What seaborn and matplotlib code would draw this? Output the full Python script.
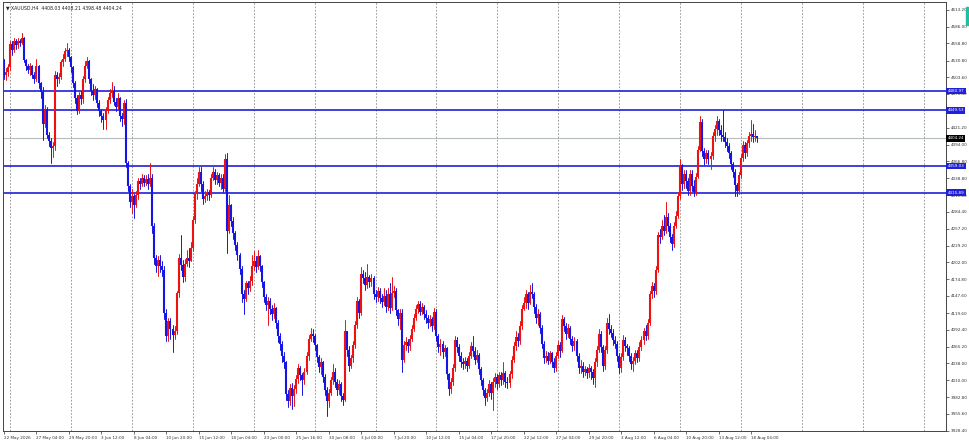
import numpy as np
import pandas as pd
import matplotlib
matplotlib.use("Agg")
import matplotlib.pyplot as plt
import matplotlib.transforms as mtransforms
from matplotlib.patches import Rectangle
import seaborn as sns

# --- chart data (H4 candles) ---
header = "\u25bc XAUUSD,H4  4408.03 4408.21 4398.48 4404.24"
first_open = 4530

closes = [
    4508, 4512, 4520, 4558, 4548, 4562, 4556, 4563, 4560, 4568,
    4531, 4522, 4516, 4522, 4508, 4500, 4522, 4494, 4480, 4428,
    4452, 4410, 4400, 4388, 4392, 4508, 4500, 4504, 4528, 4534,
    4546, 4548, 4536, 4520, 4495, 4470, 4448, 4475, 4468, 4500,
    4522, 4530, 4500, 4482, 4474, 4484, 4462, 4448, 4440, 4434,
    4450, 4466, 4478, 4482, 4464, 4455, 4470, 4440, 4436, 4462,
    4364, 4326, 4300, 4310, 4296, 4312, 4334, 4330, 4340, 4332,
    4338, 4330, 4340, 4262, 4210, 4196, 4206, 4196, 4190, 4120,
    4082, 4106, 4094, 4084, 4090, 4152, 4210, 4198, 4178, 4200,
    4210, 4204, 4226, 4272, 4314, 4330, 4350, 4330, 4306, 4310,
    4316, 4312, 4340, 4350, 4336, 4344, 4332, 4340, 4322, 4370,
    4254, 4296, 4270, 4250, 4230, 4214, 4192, 4150, 4142, 4168,
    4160, 4172, 4196, 4204, 4194, 4212, 4196, 4170, 4146, 4132,
    4140, 4126, 4118, 4128, 4104, 4082, 4070, 4050, 4040, 3988,
    3976, 3998, 3984, 3996, 4012, 4030, 4018, 4010, 4024, 4050,
    4078, 4086, 4082, 4068, 4048, 4032, 4040, 4016, 3994, 3976,
    3990, 4010, 4024, 4008, 3994, 4004, 3984, 3978, 4090, 4060,
    4034, 4046, 4068, 4100, 4140, 4120, 4184, 4176, 4166, 4178,
    4170, 4176, 4150, 4146, 4156, 4144, 4138, 4148, 4130, 4150,
    4128, 4152, 4156, 4124, 4110, 4120, 4044, 4068, 4072, 4066,
    4078, 4094, 4112, 4126, 4134, 4122, 4130, 4118, 4112, 4104,
    4110, 4098, 4122, 4082, 4064, 4070, 4056, 4062, 4020, 3996,
    4008, 4030, 4076, 4064, 4050, 4040, 4036, 4042, 4034, 4050,
    4066, 4058, 4044, 4052, 4028, 4010, 3994, 3982, 3990, 4004,
    3990, 4008, 4016, 4004, 4018, 4010, 4022, 4008, 4006, 4020,
    4044, 4066, 4080, 4074, 4098, 4126, 4136, 4150, 4136, 4154,
    4150, 4130, 4112, 4118, 4096, 4070, 4046, 4050, 4042, 4054,
    4040, 4030, 4050, 4068, 4058, 4110, 4098, 4086, 4096, 4078,
    4066, 4074, 4050, 4030, 4034, 4024, 4028, 4022, 4030, 4024,
    4014, 4040, 4060, 4086, 4064, 4034, 4060, 4104, 4094, 4088,
    4076, 4070, 4050, 4030, 4048, 4076, 4066, 4062, 4050, 4036,
    4042, 4054, 4046, 4064, 4076, 4090, 4082, 4104, 4150, 4164,
    4156, 4190, 4246, 4244, 4262, 4254, 4276, 4262, 4244, 4232,
    4262, 4278, 4310, 4360, 4330, 4346, 4334, 4318, 4346, 4326,
    4316, 4342, 4386, 4430, 4384, 4370, 4380, 4370, 4376, 4408,
    4420, 4432, 4418, 4410, 4406, 4398, 4392, 4380, 4362, 4350,
    4328, 4318, 4344, 4372, 4394, 4380, 4396, 4408, 4412, 4406,
    4408.03, 4404.24,
]

highs = [
    4534, 4518, 4526, 4562, 4563, 4568, 4566, 4568, 4566, 4575,
    4570, 4533, 4526, 4527, 4524, 4512, 4533, 4524, 4496, 4488,
    4458, 4456, 4414, 4404, 4398, 4514, 4512, 4510, 4532, 4542,
    4552, 4560, 4552, 4538, 4522, 4498, 4474, 4480, 4482, 4506,
    4530, 4536, 4532, 4502, 4492, 4490, 4486, 4466, 4452, 4446,
    4456, 4472, 4484, 4496, 4490, 4470, 4478, 4472, 4446, 4466,
    4468, 4368, 4330, 4322, 4314, 4318, 4340, 4340, 4346, 4344,
    4344, 4346, 4364, 4346, 4266, 4214, 4212, 4214, 4204, 4196,
    4126, 4112, 4112, 4100, 4098, 4156, 4216, 4246, 4206, 4208,
    4222, 4226, 4236, 4278, 4318, 4340, 4358, 4358, 4334, 4318,
    4322, 4320, 4346, 4358, 4354, 4350, 4348, 4346, 4346, 4378,
    4380, 4312, 4298, 4276, 4254, 4236, 4218, 4196, 4158, 4172,
    4172, 4180, 4214, 4220, 4212, 4222, 4214, 4198, 4172, 4150,
    4146, 4144, 4132, 4136, 4130, 4108, 4088, 4074, 4056, 4042,
    3994, 4004, 4006, 4002, 4018, 4036, 4034, 4022, 4030, 4056,
    4084, 4096, 4094, 4086, 4070, 4052, 4046, 4042, 4020, 4000,
    3996, 4016, 4036, 4030, 4012, 4010, 4008, 3990, 4108, 4090,
    4066, 4052, 4074, 4106, 4146, 4142, 4194, 4190, 4186, 4200,
    4182, 4184, 4180, 4158, 4162, 4160, 4150, 4160, 4158, 4160,
    4168, 4178, 4164, 4160, 4126, 4126, 4126, 4074, 4080, 4078,
    4084, 4100, 4118, 4132, 4140, 4140, 4136, 4132, 4124, 4116,
    4116, 4114, 4128, 4126, 4086, 4078, 4074, 4068, 4064, 4022,
    4014, 4036, 4082, 4080, 4070, 4056, 4046, 4048, 4046, 4056,
    4072, 4082, 4064, 4060, 4054, 4032, 4014, 3998, 3996, 4010,
    4008, 4014, 4022, 4020, 4024, 4024, 4040, 4026, 4016, 4026,
    4050, 4072, 4090, 4088, 4106, 4132, 4146, 4158, 4154, 4166,
    4168, 4154, 4134, 4126, 4122, 4100, 4074, 4058, 4056, 4058,
    4056, 4046, 4056, 4074, 4072, 4116, 4114, 4104, 4102, 4098,
    4082, 4080, 4078, 4054, 4044, 4040, 4034, 4032, 4036, 4034,
    4028, 4046, 4066, 4094, 4090, 4068, 4066, 4112, 4118, 4100,
    4094, 4082, 4074, 4054, 4054, 4084, 4080, 4070, 4066, 4054,
    4048, 4060, 4060, 4072, 4082, 4096, 4100, 4110, 4156, 4170,
    4168, 4196, 4252, 4256, 4272, 4280, 4300, 4282, 4266, 4248,
    4268, 4286, 4316, 4370, 4362, 4352, 4352, 4340, 4352, 4352,
    4336, 4348, 4392, 4440, 4436, 4388, 4386, 4386, 4382, 4414,
    4426, 4440, 4436, 4426, 4450, 4414, 4404, 4396, 4384, 4366,
    4354, 4332, 4350, 4378, 4400, 4398, 4402, 4414, 4434, 4428,
    4418, 4408.21,
]

lows = [
    4500, 4499, 4505, 4516, 4540, 4545, 4550, 4552, 4554, 4557,
    4528, 4515, 4510, 4508, 4503, 4494, 4498, 4486, 4470, 4402,
    4422, 4404, 4392, 4364, 4374, 4386, 4490, 4494, 4500, 4522,
    4530, 4538, 4530, 4512, 4488, 4462, 4444, 4446, 4460, 4462,
    4496, 4518, 4494, 4474, 4466, 4468, 4456, 4440, 4430, 4420,
    4420, 4446, 4462, 4472, 4458, 4448, 4452, 4432, 4424, 4428,
    4358, 4318, 4292, 4282, 4274, 4292, 4306, 4322, 4326, 4326,
    4328, 4322, 4326, 4250, 4200, 4186, 4180, 4186, 4180, 4110,
    4074, 4074, 4078, 4056, 4078, 4086, 4146, 4190, 4170, 4172,
    4196, 4194, 4204, 4220, 4266, 4306, 4326, 4318, 4298, 4300,
    4304, 4304, 4308, 4336, 4330, 4330, 4326, 4322, 4316, 4318,
    4218, 4250, 4262, 4240, 4222, 4206, 4184, 4138, 4118, 4140,
    4150, 4156, 4166, 4190, 4186, 4192, 4188, 4162, 4138, 4124,
    4100, 4118, 4108, 4112, 4096, 4072, 4060, 4040, 4030, 3978,
    3966, 3970, 3964, 3968, 3990, 4006, 4010, 3986, 4004, 4020,
    4044, 4074, 4072, 4060, 4040, 4024, 4020, 4008, 3986, 3952,
    3966, 3986, 4004, 4000, 3986, 3988, 3976, 3970, 3976, 4050,
    4026, 4030, 4040, 4062, 4096, 4112, 4116, 4168, 4158, 4160,
    4162, 4164, 4142, 4138, 4140, 4136, 4130, 4132, 4122, 4124,
    4120, 4124, 4146, 4116, 4100, 4094, 4024, 4040, 4060, 4056,
    4060, 4074, 4090, 4108, 4120, 4116, 4118, 4110, 4104, 4096,
    4098, 4090, 4094, 4074, 4056, 4052, 4046, 4050, 4012, 3986,
    3990, 4002, 4026, 4056, 4042, 4032, 4028, 4030, 4026, 4030,
    4046, 4050, 4036, 4040, 4020, 4002, 3986, 3970, 3976, 3984,
    3980, 3962, 4000, 3996, 4000, 4002, 4004, 4000, 3998, 4000,
    4014, 4040, 4060, 4066, 4070, 4094, 4124, 4128, 4126, 4134,
    4144, 4120, 4104, 4100, 4088, 4062, 4038, 4040, 4036, 4038,
    4032, 4024, 4026, 4046, 4048, 4056, 4090, 4078, 4080, 4070,
    4058, 4060, 4042, 4022, 4022, 4016, 4018, 4014, 4016, 4012,
    4004, 4000, 4034, 4056, 4056, 4026, 4028, 4054, 4086, 4080,
    4068, 4062, 4042, 4022, 4024, 4044, 4058, 4052, 4042, 4028,
    4026, 4036, 4040, 4042, 4060, 4070, 4076, 4078, 4100, 4144,
    4146, 4150, 4186, 4234, 4240, 4246, 4250, 4254, 4236, 4222,
    4228, 4258, 4274, 4306, 4320, 4324, 4324, 4312, 4312, 4318,
    4310, 4312, 4340, 4384, 4376, 4360, 4364, 4362, 4355, 4370,
    4400, 4410, 4410, 4400, 4400, 4390, 4384, 4372, 4354, 4342,
    4310, 4310, 4314, 4340, 4368, 4372, 4376, 4390, 4400, 4398,
    4400, 4398.48,
]

level_values = [4480.97, 4449.53, 4359.03, 4315.89]
last_price = 4404.24

price_ticks = [
    4613.20, 4586.00, 4558.80, 4530.80, 4503.60, 4476.40, 4449.20,
    4421.20, 4394.00, 4366.80, 4338.80, 4311.60, 4284.40, 4257.20,
    4229.20, 4202.00, 4174.80, 4147.60, 4119.60, 4092.40, 4065.20,
    4038.00, 4010.00, 3982.80, 3955.60, 3928.40,
]
# this one sits fully under the 4449.53 box in the reference
hidden_ticks = [4449.20]

time_labels = [
    "22 May 2026", "27 May 04:00", "29 May 20:00", "3 Jun 12:00",
    "8 Jun 04:00", "10 Jun 20:00", "15 Jun 12:00", "18 Jun 04:00",
    "23 Jun 00:00", "25 Jun 16:00", "30 Jun 08:00", "3 Jul 00:00",
    "7 Jul 20:00", "10 Jul 12:00", "15 Jul 04:00", "17 Jul 20:00",
    "22 Jul 12:00", "27 Jul 04:00", "29 Jul 20:00", "3 Aug 12:00",
    "6 Aug 04:00", "10 Aug 20:00", "13 Aug 12:00", "18 Aug 04:00",
]

# --- build long-form frames for the candles ---
opens = [first_open] + closes[:-1]
df = pd.DataFrame({"bar": np.arange(len(closes)), "open": opens,
                   "high": highs, "low": lows, "close": closes})
df["high"] = df[["high", "open", "close"]].max(axis=1)
df["low"] = df[["low", "open", "close"]].min(axis=1)
df["side"] = np.where(df["close"] >= df["open"], "up", "down")

wicks = pd.concat([
    df[["bar", "side"]].assign(price=df["low"]),
    df[["bar", "side"]].assign(price=df["high"]),
])
bodies = pd.concat([
    df[["bar", "side"]].assign(price=df["open"]),
    df[["bar", "side"]].assign(price=df["close"]),
])

up_col = "#ee1111"
down_col = "#1515e6"
level_col = "#2020d8"
palette = {"up": up_col, "down": down_col}

sns.set_style("white")
plt.rcParams["font.family"] = ["DejaVu Sans"]

fig = plt.figure(figsize=(9.7, 4.45), dpi=100)
ax = fig.add_axes([3 / 970, 14 / 445, 943 / 970, 429 / 445])

# dotted vertical grid and price lines behind the candles
for gx in np.arange(3, 464, 30):
    ax.axvline(gx, color="#8a8a8a", lw=0.6, ls=(0, (2, 2)), zorder=0)
ax.axhline(last_price, color="#b4bcbc", lw=0.8, zorder=0)
for v in level_values:
    ax.axhline(v, color=level_col, lw=1.2, zorder=1)

sns.lineplot(data=wicks, x="bar", y="price", units="bar", estimator=None,
             hue="side", palette=palette, linewidth=0.7, legend=False, ax=ax)
sns.lineplot(data=bodies, x="bar", y="price", units="bar", estimator=None,
             hue="side", palette=palette, linewidth=1.5, legend=False, ax=ax,
             solid_capstyle="butt")

ax.set_xlim(-0.5, 464.0)
ax.set_ylim(3927.6, 4626.2)
ax.set_xlabel("")
ax.set_ylabel("")

# price scale on the right
ax.yaxis.tick_right()
ax.set_yticks(price_ticks)
ax.set_yticklabels(["" if p in hidden_ticks else f"{p:.2f}" for p in price_ticks])
ax.tick_params(axis="y", right=True, length=2, width=0.5, pad=1.5,
               labelsize=3, colors="#333333")

# time scale
ax.set_xticks([16 * k for k in range(len(time_labels))])
ax.set_xticklabels(time_labels)
ax.tick_params(axis="x", bottom=True, length=2, width=0.5, pad=1.5,
               labelsize=3, colors="#333333")
plt.setp(ax.get_xticklabels(), ha="left")

for s in ax.spines.values():
    s.set_color("#444444")
    s.set_linewidth(0.7)

# price boxes on the scale
trans = mtransforms.blended_transform_factory(ax.transAxes, ax.transData)
for v in level_values:
    ax.text(1.0016, v, f"{v:.2f}", transform=trans, fontsize=3, color="white",
            va="center", ha="left", clip_on=False, zorder=6,
            bbox=dict(boxstyle="square,pad=0.3", fc=level_col, ec="none"))
ax.text(1.0016, last_price, f"{last_price:.2f}", transform=trans, fontsize=3,
        color="white", va="center", ha="left", clip_on=False, zorder=6,
        bbox=dict(boxstyle="square,pad=0.3", fc="black", ec="none"))

ax.text(0.003, 0.993, header, transform=ax.transAxes, fontsize=3.3,
        color="#222222", va="top", ha="left")

# scroll marker at the top right corner
fig.patches.append(Rectangle((966 / 970, (445 - 25) / 445), 4 / 970, 18 / 445,
                             transform=fig.transFigure, color="#1fbf9f"))

fig.savefig("out.png", dpi=100)
